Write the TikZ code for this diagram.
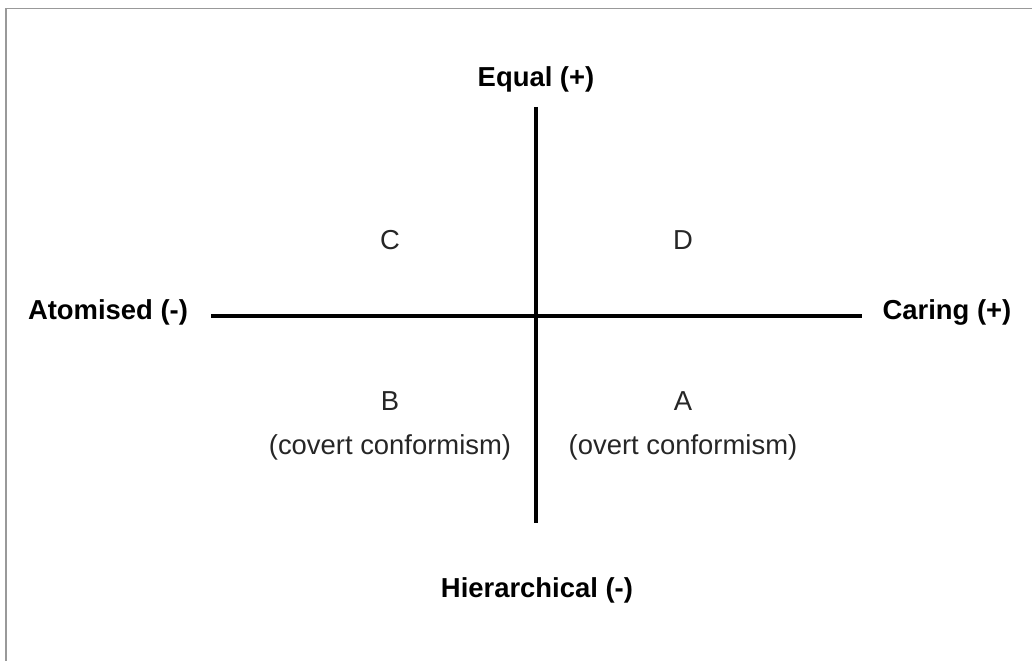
\documentclass[tikz,border=0pt]{standalone}
\usepackage{fontspec}
\setmainfont{Liberation Sans}
\usetikzlibrary{positioning}

\begin{document}
\begin{tikzpicture}[
        x=0.025cm, y=-0.025cm,
        axislabel/.style={font=\fontsize{19.5}{23}\selectfont\bfseries, inner sep=0pt},
        quadrant/.style={font=\fontsize{19.5}{23}\selectfont, text=black!85, inner sep=0pt},
        axis/.style={line width=2.2pt},
        frameline/.style={draw=gray!80, line width=1.4pt}
    ]
    \useasboundingbox (0,0) rectangle (1032,661);
    \draw[frameline] (6,661) -- (6,8.5) -- (1032,8.5);

    % axis ends
    \coordinate (top) at (536,107);
    \coordinate (bottom) at (536,523);
    \coordinate (left) at (211,316);
    \coordinate (right) at (862,316);

    \node[axislabel] (equal) at (536,79) {Equal (+)};
    \node[axislabel] (hier) at (537,590) {Hierarchical (-)};
    \node[axislabel] (atom) at (108,312) {Atomised (-)};
    \node[axislabel] (caring) at (947,312) {Caring (+)};

    \node[quadrant] (c) at (390,240) {C};
    \node[quadrant] (d) at (683,240) {D};
    \node[quadrant] (b) at (390,401) {B};
    \node[quadrant, below=33pt of b.center, anchor=center] (bnote) {(covert conformism)};
    \node[quadrant] (a) at (683,401) {A};
    \node[quadrant, below=33pt of a.center, anchor=center] (anote) {(overt conformism)};

    \draw[axis] (top) -- (bottom);
    \draw[axis] (left) -- (right);
\end{tikzpicture}
\end{document}
